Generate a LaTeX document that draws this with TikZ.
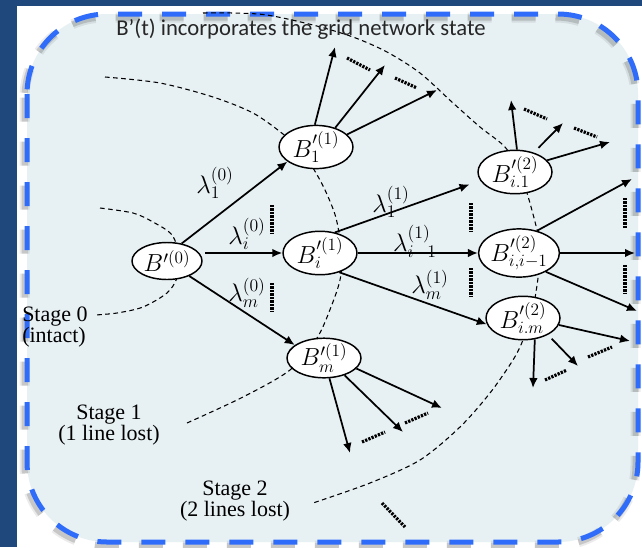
\RequirePackage{fix-cm}
\documentclass[tikz,border=0pt]{standalone}
\usepackage[no-math]{fontspec}
\setmainfont{Liberation Serif}
\newfontfamily\titlefont{Carlito}
\usetikzlibrary{arrows.meta,shapes.geometric}

\definecolor{navy}{RGB}{31,73,125}
\definecolor{panel}{RGB}{231,240,243}
\definecolor{bordblue}{RGB}{48,108,250}

\begin{document}
\begin{tikzpicture}[x=0.75pt,y=-0.75pt,
  bnode/.style={ellipse, draw, fill=white, line width=1.1pt, inner sep=0pt,
    minimum width=55.5pt, minimum height=29.5pt, font=\fontsize{18.5}{20}\selectfont},
  arr/.style={line width=1.3pt, -{Latex[length=7.5pt,width=6.5pt]}},
  stagecurve/.style={line width=0.8pt, dash pattern=on 3.5pt off 2.6pt},
  dotbar/.style={line width=2.4pt, dash pattern=on 1.7pt off 0.9pt},
  lam/.style={inner sep=0pt, font=\fontsize{19}{20}\selectfont},
  stagetext/.style={align=center, inner sep=0pt, font=\fontsize{16.5}{15}\selectfont},
  frame/.style={rounded corners=60pt, dash pattern=on 18pt off 15pt}
]
\useasboundingbox (0,0) rectangle (642,547);

% slide background and panel
\fill[navy] (0,0) rectangle (642,547);
\fill[white] (17,6) rectangle (642,547);
\fill[panel, rounded corners=60pt] (27,14) rectangle (638,542);
\begin{scope}[shift={(-2.5,3.5)}]
  \draw[frame, black, opacity=0.08, line width=7.5pt] (27,14) rectangle (638,542);
  \draw[frame, black, opacity=0.15, line width=4.5pt] (27,14) rectangle (638,542);
\end{scope}
\draw[frame, bordblue, line width=3.75pt] (27,14) rectangle (638,542);

% stage boundaries
\draw[stagecurve] plot[smooth] coordinates {(100,208) (133,213) (153,222) (172,235) (180,258) (177,278) (167,293) (143,307) (117,313) (95,315)};
\draw[stagecurve] plot[smooth] coordinates {(105,77) (160,83) (213,97) (253,113) (283,134) (300,150) (313,168) (325,190) (336,218) (342,255) (340,280) (331,307) (317,338) (290,370) (243,397) (187,423)};
\draw[stagecurve] plot[smooth] coordinates {(203,13) (233,13) (267,15) (313,25) (353,37) (387,52) (420,73) (453,103) (480,127) (505,147) (518,170) (527,193) (537,230) (540,252) (539,270) (535,298) (530,318) (523,340) (513,360) (490,393) (460,427) (420,460) (370,483) (313,503)};

% title
\node[font=\titlefont\fontsize{17}{20}\selectfont, text=black!85, inner sep=0pt] (title) at (301,29) {B’(t) incorporates the grid network state};

% states
\node[bnode, minimum width=52.5pt, minimum height=27.75pt] (b0) at (167,261) {$B'^{(0)}$};
\node[bnode, minimum height=30.5pt] (b1) at (316,147) {$B'^{(1)}_1$};
\node[bnode, minimum height=28pt] (bi) at (320,253) {$B'^{(1)}_i$};
\node[bnode] (bm) at (324,358) {$B'^{(1)}_m$};
\node[bnode] (bi1) at (515,172) {$B'^{(2)}_{i.1}$};
\node[bnode] (bii) at (519,253) {$B'^{(2)}_{i,i-1}$};
\node[bnode] (bim) at (523,318) {$B'^{(2)}_{i.m}$};

% transitions between stages
\draw[arr] (b0.50) -- (b1.207);
\draw[arr, shorten <=2pt] (b0.east |- bi.west) -- (bi.west);
\draw[arr] (b0.-34) -- (bm.156);
\draw[arr, shorten >=8.5pt] (bi.54) -- (bi1.194);
\draw[arr] (bi.east) -- (bii.west);
\draw[arr] (bi.-45) -- (bim.190);

\node[lam] (l10) at (215,183) {$\lambda_1^{(0)}$};
\node[lam] (li0) at (247,234) {$\lambda_i^{(0)}$};
\node[lam] (lm0) at (247,293) {$\lambda_m^{(0)}$};
\node[lam] (l11) at (391,202) {$\lambda_1^{(1)}$};
\node[lam] (li1) at (415,242) {$\lambda_{i-1}^{(1)}$};
\node[lam] (lm1) at (430,285) {$\lambda_m^{(1)}$};

% free ends of the outgoing fans
\coordinate (f1a) at (335,47);  \coordinate (f1b) at (385,65);  \coordinate (f1c) at (437,90);
\coordinate (f2a) at (511,100); \coordinate (f2b) at (563,123); \coordinate (f2c) at (610,142);
\coordinate (f3a) at (632,179); \coordinate (f3b) at (635,253); \coordinate (f3c) at (637,311);
\coordinate (f4a) at (630,341); \coordinate (f4b) at (578,366); \coordinate (f4c) at (533,388);
\coordinate (f5a) at (350,453); \coordinate (f5b) at (403,432); \coordinate (f5c) at (442,408);

\draw[arr] (b1.93) -- (f1a);
\draw[arr] (b1.45) -- (f1b);
\draw[arr] (b1.22) -- (f1c);
\draw[arr] (bi1.85) -- (f2a);
\draw[arr, shorten <=5pt] (bi1.46) -- (f2b);
\draw[arr] (bi1.20) -- (f2c);
\draw[arr] (bii.51) -- (f3a);
\draw[arr] (bii.east) -- (f3b);
\draw[arr] (bii.-35) -- (f3c);
\draw[arr] (bim.-11) -- (f4a);
\draw[arr, shorten <=4pt] (bim.-34) -- (f4b);
\draw[arr] (bim.-61) -- (f4c);
\draw[arr] (bm.-75) -- (f5a);
\draw[arr] (bm.-40) -- (f5b);
\draw[arr] (bm.-18) -- (f5c);

% ellipsis marks
\draw[dotbar] (347,58) -- (370,70);
\draw[dotbar] (395,78) -- (417,88);
\draw[dotbar] (524,109) -- (547,119);
\draw[dotbar] (574,128) -- (597,137);
\draw[dotbar] (545,380) -- (567,370);
\draw[dotbar] (588,357) -- (612,347);
\draw[dotbar] (362,442) -- (385,432);
\draw[dotbar] (405,423) -- (428,413);
\draw[dotbar] (272,205) -- (272,233);
\draw[dotbar] (272,283) -- (272,312);
\draw[dotbar] (471,203) -- (471,232);
\draw[dotbar] (471,268) -- (471,297);
\draw[dotbar] (625,198) -- (625,228);
\draw[dotbar] (625,265) -- (625,293);
\draw[dotbar] (382,503) -- (405,527);

% stage captions
\node[stagetext, align=left, anchor=west] (s0) at (22,327) {Stage 0\\(intact)};
\node[stagetext] (s1) at (109,425) {Stage 1\\(1 line lost)};
\node[stagetext] (s2) at (235,501) {Stage 2\\(2 lines lost)};
\end{tikzpicture}
\end{document}
